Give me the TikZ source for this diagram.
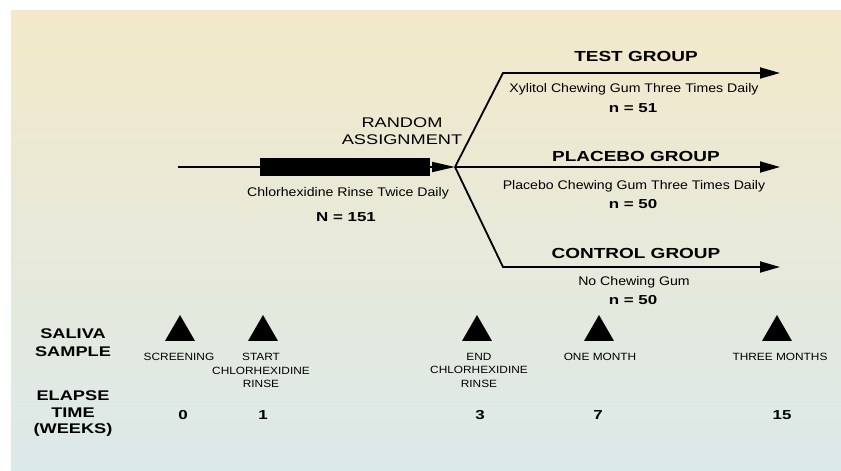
\documentclass[tikz,border=0pt]{standalone}
\usepackage{fontspec}
\setmainfont{Liberation Sans}
\newfontfamily\hdfont[FakeStretch=1.3]{Liberation Sans}
\newfontfamily\lbfont[FakeStretch=1.13]{Liberation Sans}
\usetikzlibrary{ arrows.meta,
                 positioning,      % For easy node-relative placements
                 shapes.geometric, % For the sample triangles
               }
\definecolor{topcream}{RGB}{243,233,201}
\definecolor{bottomblue}{RGB}{220,233,233}
\tikzstyle{flow} = [line width=1.8pt, -{Triangle[length=20pt, width=11pt]}]
\tikzstyle{head} = [font=\hdfont\bfseries\fontsize{14.6}{17}\selectfont, align=center, inner sep=0]
\tikzstyle{note} = [font=\lbfont\fontsize{12.5}{15}\selectfont, inner sep=0]
\tikzstyle{tally} = [font=\hdfont\bfseries\fontsize{13}{15}\selectfont, inner sep=0]
\tikzstyle{sample} = [regular polygon, regular polygon sides=3, fill=black, minimum size=34.6pt, inner sep=0]
\tikzstyle{when} = [font=\lbfont\fontsize{10.5}{13.5}\selectfont, align=center, inner sep=0]

\begin{document}
\begin{tikzpicture}[x=1pt, y=-1pt]
  \useasboundingbox (0,0) rectangle (841,471);
  \shade [top color=topcream, bottom color=bottomblue] (11,10) rectangle (841,471);

  % rinse period and random assignment
  \coordinate (start) at (178,167);
  \node (rinse) [fill=black, minimum width=170pt, minimum height=18pt, inner sep=0] at (345,167) {};
  \coordinate (split) at (455,167);
  \draw [line width=1.8pt] (start) -- (rinse.west);
  \draw [line width=1.8pt, -{Triangle[length=23pt, width=10pt]}] (rinse.east) -- (split);
  \node (random) [head, font=\hdfont\fontsize{14}{17}\selectfont] at (402,131) {RANDOM\\ASSIGNMENT};
  \node (rinsenote) [note] at (348,193) {Chlorhexidine Rinse Twice Daily};
  \node (total) [tally] at (346,217) {N = 151};

  % the three groups
  \coordinate (tcorner) at (503,73);
  \coordinate (tend) at (780,73);
  \coordinate (pend) at (780,167);
  \coordinate (ccorner) at (503,267);
  \coordinate (cend) at (780,267);
  \draw [flow] (split) -- (tcorner) -- (tend);
  \draw [flow] (split) -- (pend);
  \draw [flow] (split) -- (ccorner) -- (cend);

  \node (test) [head] at (636,56) {TEST GROUP};
  \node (testnote) [note] at (634,89) {Xylitol Chewing Gum Three Times Daily};
  \node (testn) [tally] at (633,108) {n = 51};
  \node (placebo) [head] at (636,156) {PLACEBO GROUP};
  \node (placebonote) [note] at (634,186) {Placebo Chewing Gum Three Times Daily};
  \node (placebon) [tally] at (633,204) {n = 50};
  \node (control) [head] at (636,253) {CONTROL GROUP};
  \node (controlnote) [note] at (634,282) {No Chewing Gum};
  \node (controln) [tally] at (633,300) {n = 50};

  % saliva samples and elapsed time
  \node (saliva) [head, font=\hdfont\bfseries\fontsize{14}{18}\selectfont] at (73,343) {SALIVA\\SAMPLE};
  \node (elapse) [head, font=\hdfont\bfseries\fontsize{14}{16.5}\selectfont] at (73,414) {ELAPSE\\TIME\\(WEEKS)};

  \node (s0) [sample] at (180,332.3) {};
  \node (s1) [sample] at (263,332.3) {};
  \node (s3) [sample] at (477,332.3) {};
  \node (s7) [sample] at (599,332.3) {};
  \node (s15) [sample] at (777,332.3) {};

  \node (w0) [when, anchor=north] at (179,353) {SCREENING};
  \node (w1) [when, anchor=north] at (261,353) {START\\CHLORHEXIDINE\\RINSE};
  \node (w3) [when, anchor=north] at (479,353) {END\\CHLORHEXIDINE\\RINSE};
  \node (w7) [when, anchor=north] at (600,353) {ONE MONTH};
  \node (w15) [when, anchor=north] at (780,353) {THREE MONTHS};

  \node (t0) [tally] at (183,415) {0};
  \node (t1) [tally] at (263,415) {1};
  \node (t3) [tally] at (480,415) {3};
  \node (t7) [tally] at (598,415) {7};
  \node (t15) [tally] at (782,415) {15};
\end{tikzpicture}
\end{document}
